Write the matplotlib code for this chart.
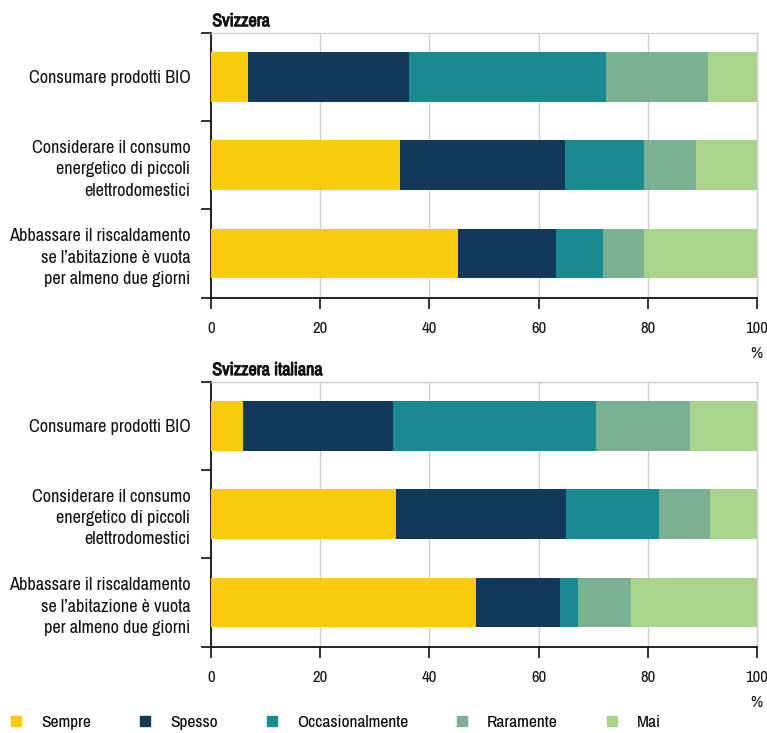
import matplotlib
matplotlib.use("Agg")
import matplotlib.pyplot as plt
import matplotlib.patheffects as pe
from matplotlib.lines import Line2D
from matplotlib.transforms import ScaledTranslation
from matplotlib import font_manager

# Prefer a condensed / narrow sans face; fall back to Liberation Sans at a smaller size
NARROW = ("condensed", "semi-condensed", "extra-condensed", "ultra-condensed")

def wnum(w):
    names = {"normal": 400, "regular": 400, "book": 400, "medium": 500,
             "semibold": 600, "demibold": 600, "bold": 700, "heavy": 800, "black": 900}
    return w if isinstance(w, int) else names.get(str(w).lower(), 400)

cands = [f for f in font_manager.fontManager.ttflist
         if f.style == "normal"
         and (f.stretch in NARROW or "Condensed" in f.name or "Narrow" in f.name)]
regular = [f for f in cands if wnum(f.weight) == 400]
if regular:
    pick = sorted(regular, key=lambda f: (f.stretch != "semi-condensed", f.name))[0]
    plt.rcParams["font.family"] = [pick.name, "DejaVu Sans"]
    plt.rcParams["font.stretch"] = pick.stretch
    scale = 1.0
else:
    plt.rcParams["font.family"] = ["Liberation Sans", "DejaVu Sans"]
    scale = 0.82

categories = [
    "Consumare prodotti BIO",
    "Considerare il consumo\nenergetico di piccoli\nelettrodomestici",
    "Abbassare il riscaldamento\nse l\u2019abitazione è vuota\nper almeno due giorni",
]
series_names = ["Sempre", "Spesso", "Occasionalmente", "Raramente", "Mai"]
colors = ["#F9CB0C", "#13395A", "#198A90", "#7BB193", "#A9D48C"]

# Shares in percent, one list per answer, in category order
svizzera = {
    "Sempre":          [6.8, 34.6, 45.3],
    "Spesso":          [29.5, 30.2, 17.9],
    "Occasionalmente": [36.1, 14.6, 8.7],
    "Raramente":       [18.7, 9.5, 7.4],
    "Mai":             [8.9, 11.1, 20.7],
}
svizzera_italiana = {
    "Sempre":          [5.8, 33.9, 48.5],
    "Spesso":          [27.5, 31.1, 15.5],
    "Occasionalmente": [37.2, 17.0, 3.3],
    "Raramente":       [17.3, 9.4, 9.7],
    "Mai":             [12.2, 8.6, 23.0],
}
panel_titles = ["Svizzera", "Svizzera italiana"]
x_ticks = [0, 20, 40, 60, 80, 100]

W, H = 767, 733
fig = plt.figure(figsize=(W / 100, H / 100), dpi=100)

def px_axes(left, top, right, bottom):
    return fig.add_axes([left / W, 1 - bottom / H, (right - left) / W, (bottom - top) / H])

axes = [px_axes(211.3, 32.7, 756.7, 297.7), px_axes(211.3, 381.6, 756.7, 646.7)]

for ax, data, title in zip(axes, [svizzera, svizzera_italiana], panel_titles):
    ypos = list(range(len(categories)))
    left = [0.0] * len(categories)
    for name, col in zip(series_names, colors):
        vals = data[name]
        ax.barh(ypos, vals, left=left, height=0.565, color=col, edgecolor="none", zorder=3)
        left = [l + v for l, v in zip(left, vals)]

    ax.set_xlim(0, 100)
    ax.set_ylim(len(categories) - 0.5, -0.5)
    ax.set_xticks(x_ticks)
    ax.set_xticklabels([str(t) for t in x_ticks], fontsize=12 * scale, color="#111111")
    ax.xaxis.grid(True, color="#cfcfcf", linewidth=1.0, zorder=0)
    ax.set_axisbelow(True)

    # category labels centred on bars, tick marks between the bars
    ax.set_yticks([i + 0.5 for i in range(-1, len(categories))])
    ax.set_yticklabels([])
    ax.set_yticks(ypos, minor=True)
    ax.set_yticklabels(categories, minor=True, fontsize=13.1 * scale, ha="right",
                       multialignment="right", linespacing=1.4, color="#111111")
    ax.tick_params(axis="y", which="major", length=7, width=1.2, color="#111111")
    ax.tick_params(axis="y", which="minor", length=0, pad=15)
    ax.tick_params(axis="x", which="major", length=8, width=1.2, color="#111111",
                   pad=9, direction="out")

    for s in ["left", "bottom"]:
        ax.spines[s].set_color("#111111")
        ax.spines[s].set_linewidth(1.3)
    for s in ["top", "right"]:
        ax.spines[s].set_color("#d0d0d0")
        ax.spines[s].set_linewidth(1.0)

    # panel heading: condensed face, thickened with a stroke for a bold look
    ax.text(0, 1.0, title, fontsize=13 * scale, ha="left", va="bottom", color="#111111",
            path_effects=[pe.withStroke(linewidth=0.7, foreground="#111111")],
            transform=ax.transAxes + ScaledTranslation(0.01, 0.035, fig.dpi_scale_trans))
    ax.annotate("%", xy=(1.0, 0), xycoords="axes fraction", xytext=(0, -40),
                textcoords="offset points", ha="center", va="center",
                fontsize=12 * scale, color="#111111")

handles = [Line2D([0], [0], marker="s", linestyle="none", markersize=7.5,
                  markerfacecolor=c, markeredgecolor=c) for c in colors]
fig.legend(handles, series_names, loc="center left", bbox_to_anchor=(0.003, 1 - 722 / H),
           ncol=5, frameon=False, fontsize=12.5 * scale, handlelength=1.0,
           handletextpad=0.95, columnspacing=2.6, borderaxespad=0, borderpad=0.3)

fig.savefig("out.png", dpi=100)
